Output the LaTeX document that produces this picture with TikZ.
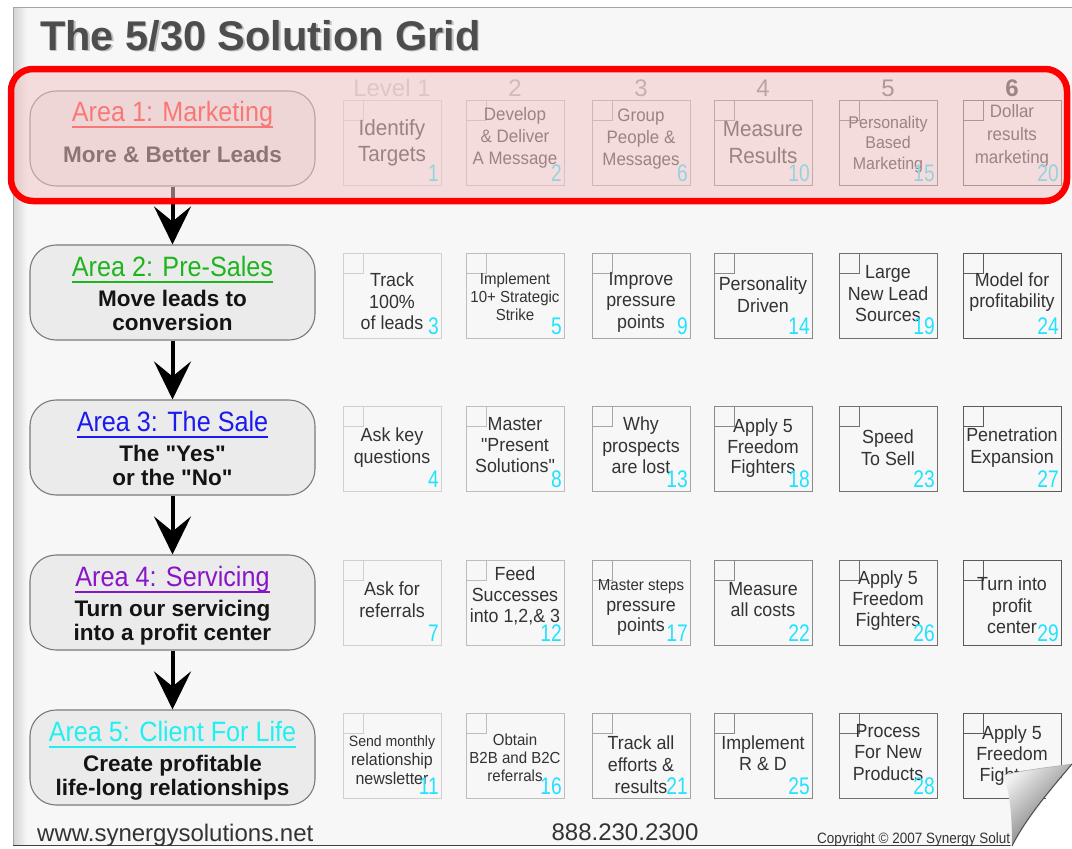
\documentclass[tikz,border=0pt]{standalone}
\usepackage{fontspec}
\setmainfont{Liberation Sans}[Ligatures=TeXOff]
\newfontfamily\narrowfont{Liberation Sans}[FakeStretch=0.9]
\newfontfamily\cellfont{Liberation Sans}[FakeStretch=0.94]
\newfontfamily\numfont{Liberation Sans}[FakeStretch=0.8]
\usetikzlibrary{arrows.meta,calc}
\definecolor{pagebg}{HTML}{F7F7F7}
\definecolor{titlegray}{HTML}{4D4D4D}
\definecolor{areafill}{HTML}{EBEBEB}
\definecolor{areaborder}{HTML}{7A7A7A}
\definecolor{cellink}{HTML}{333333}
\definecolor{numcyan}{HTML}{22E2FF}
\definecolor{ared}{HTML}{FF1A1A}
\definecolor{agreen}{HTML}{1DB51D}
\definecolor{ablue}{HTML}{1A1AF0}
\definecolor{apurple}{HTML}{8A14C8}
\definecolor{acyan}{HTML}{22F0F0}
\definecolor{overlaypink}{RGB}{243,198,198}
\definecolor{framered}{HTML}{FF0000}
\definecolor{bA}{HTML}{CFCFCF}
\definecolor{bB}{HTML}{BDBDBD}
\definecolor{bC}{HTML}{A5A5A5}
\definecolor{bD}{HTML}{8A8A8A}
\definecolor{bE}{HTML}{707070}
\definecolor{bF}{HTML}{5A5A5A}
\newcommand\cf[2]{\cellfont\fontsize{#1}{#2}\selectfont}
\newcommand\gcell[8]{%
  \node[cellbox, draw=#8] (#1) at (#2,#3) {};
  \draw[#8, line width=0.9] (#1.north west) rectangle ++(20,20);
  \node[celltext, font=#5] (#1t) at (#2,#4) {#6};
  \node[cellnum] (#1n) at ($(#1.south east)+(-2,-3)$) {#7};
}
\tikzset{
  areabox/.style={draw=areaborder, fill=areafill, line width=1.1, rounded corners=26, minimum width=285, minimum height=95, inner sep=0},
  areatitle/.style={anchor=base, inner sep=0, font=\narrowfont\fontsize{28}{30}\selectfont},
  areasub/.style={anchor=base, inner sep=0, font=\bfseries\fontsize{22.5}{24}\selectfont, text=black!92},
  flowarrow/.style={line width=4, -{Stealth[length=38pt, width=37pt, inset=15pt]}},
  cellbox/.style={rectangle, minimum width=98, minimum height=85, inner sep=0, outer sep=0, line width=0.9},
  celltext/.style={align=center, inner sep=0, text=cellink},
  cellnum/.style={anchor=south east, inner sep=0, text=numcyan, font=\numfont\fontsize{24}{24}\selectfont},
  header/.style={anchor=base, inner sep=0, font=\fontsize{24}{24}\selectfont},
  foot/.style={anchor=base west, inner sep=0, text=black!80, font=\fontsize{24}{24}\selectfont}
}
\begin{document}
\begin{tikzpicture}[x=1pt,y=-1pt]
\useasboundingbox (0,0) rectangle (1072,849);
\fill[white] (0,0) rectangle (1072,849);
% page
\fill[pagebg] (13,7) rectangle (1072,845);
\shade[left color=black!18, right color=pagebg] (13,7) rectangle (27,845);
\draw[black!35, line width=1] (13,845) -- (13,7) -- (1072,7);
\draw[black!75, line width=1.5] (13,845.5) -- (1072,845.5);
% title
\node[anchor=base west, inner sep=0, text=black!25, font=\bfseries\fontsize{41.5}{44}\selectfont] (titleshadow) at (41.5,51.5) {The 5/30 Solution Grid};
\node[anchor=base west, inner sep=0, text=titlegray, font=\bfseries\fontsize{41.5}{44}\selectfont] (title) at (40,50) {The 5/30 Solution Grid};
% headers
\node[header, text=black!22] (h1) at (392,96) {Level 1};
\node[header, text=black!32] (h2) at (515,96) {2};
\node[header, text=black!42] (h3) at (641,96) {3};
\node[header, text=black!52] (h4) at (763,96) {4};
\node[header, text=black!62] (h5) at (888,96) {5};
\node[header, text=black!78, font=\bfseries\fontsize{24}{24}\selectfont] (h6) at (1012,96) {6};
% area boxes
\node[areabox] (a1) at (172.5,138.5) {};
\node[areabox] (a2) at (172.5,292.5) {};
\node[areabox] (a3) at (172.5,447.5) {};
\node[areabox] (a4) at (172.5,602.5) {};
\node[areabox] (a5) at (172.5,757.5) {};
\draw[flowarrow] (a1.south) -- (a2.north);
\draw[flowarrow] (a2.south) -- (a3.north);
\draw[flowarrow] (a3.south) -- (a4.north);
\draw[flowarrow] (a4.south) -- (a5.north);
% area texts
\node[areatitle, text=ared] (t1) at (172.5,121) {Area 1: Marketing};
\draw[ared, line width=2.5] ($(t1.base west)+(0,6)$) -- ($(t1.base east)+(0,6)$);
\node[areasub] (s1) at (172.5,162) {More \& Better Leads};
\node[areatitle, text=agreen] (t2) at (172.5,276) {Area 2: Pre-Sales};
\draw[agreen, line width=2.5] ($(t2.base west)+(0,6)$) -- ($(t2.base east)+(0,6)$);
\node[areasub] (s2a) at (172.5,306) {Move leads to};
\node[areasub] (s2b) at (172.5,330) {conversion};
\node[areatitle, text=ablue] (t3) at (172.5,431) {Area 3: The Sale};
\draw[ablue, line width=2.5] ($(t3.base west)+(0,6)$) -- ($(t3.base east)+(0,6)$);
\node[areasub] (s3a) at (172.5,461) {The "Yes"};
\node[areasub] (s3b) at (172.5,485) {or the "No"};
\node[areatitle, text=apurple] (t4) at (172.5,586) {Area 4: Servicing};
\draw[apurple, line width=2.5] ($(t4.base west)+(0,6)$) -- ($(t4.base east)+(0,6)$);
\node[areasub] (s4a) at (172.5,616) {Turn our servicing};
\node[areasub] (s4b) at (172.5,640) {into a profit center};
\node[areatitle, text=acyan] (t5) at (172.5,741) {Area 5: Client For Life};
\draw[acyan, line width=2.5] ($(t5.base west)+(0,6)$) -- ($(t5.base east)+(0,6)$);
\node[areasub] (s5a) at (172.5,771) {Create profitable};
\node[areasub] (s5b) at (172.5,795) {life-long relationships};
% row 1
\gcell{c11}{392}{142.5}{143}{\cf{22}{26}}{Identify\\Targets}{1}{bA}
\gcell{c12}{515}{142.5}{138}{\cf{18}{22}}{Develop\\\& Deliver\\A Message}{2}{bB}
\gcell{c13}{641}{142.5}{139}{\cf{18}{22}}{Group\\People \&\\Messages}{6}{bC}
\gcell{c14}{763}{142.5}{142.5}{\cf{22}{27}}{Measure\\Results}{10}{bD}
\gcell{c15}{888}{142.5}{144.5}{\cf{17}{20.5}}{Personality\\Based\\Marketing}{15}{bE}
\gcell{c16}{1012}{142.5}{136}{\cf{18}{23}}{Dollar\\results\\marketing}{20}{bF}
% row 2
\gcell{c21}{392}{295.5}{301.5}{\cf{19}{21.5}}{Track\\100\%\\of leads}{3}{bA}
\gcell{c22}{515}{295.5}{297}{\cf{16}{18}}{Implement\\10+ Strategic\\Strike}{5}{bB}
\gcell{c23}{641}{295.5}{302}{\cf{19}{21.5}}{Improve\\pressure\\points}{9}{bC}
\gcell{c24}{763}{295.5}{294.5}{\cf{19}{21.5}}{Personality\\Driven}{14}{bD}
\gcell{c25}{888}{295.5}{294}{\cf{19}{21.5}}{Large\\New Lead\\Sources}{19}{bE}
\gcell{c26}{1012}{295.5}{292}{\cf{19}{21.5}}{Model for\\profitability}{24}{bF}
% row 3
\gcell{c31}{392}{448.5}{447.5}{\cf{19}{21.5}}{Ask key\\questions}{4}{bA}
\gcell{c32}{515}{448.5}{445.5}{\cf{19}{21}}{Master\\"Present\\Solutions"}{8}{bB}
\gcell{c33}{641}{448.5}{445.5}{\cf{19}{21.5}}{Why\\prospects\\are lost}{13}{bC}
\gcell{c34}{763}{448.5}{448.5}{\cf{19}{20.5}}{Apply 5\\Freedom\\Fighters}{18}{bD}
\gcell{c35}{888}{448.5}{447.5}{\cf{19}{21.5}}{Speed\\To Sell}{23}{bE}
\gcell{c36}{1012}{448.5}{447.5}{\cf{19}{21.5}}{Penetration\\Expansion}{27}{bF}
% row 4
\gcell{c41}{392}{602.5}{599.5}{\cf{19}{21.5}}{Ask for\\referrals}{7}{bA}
\gcell{c42}{515}{602.5}{596}{\cf{19}{21}}{Feed\\Successes\\into 1,2,\& 3}{12}{bB}
\gcell{c43}{641}{602.5}{607.5}{\cf{19}{20.5}}{{\fontsize{16}{18}\selectfont Master steps}\\pressure\\points}{17}{bC}
\gcell{c44}{763}{602.5}{599.5}{\cf{19}{21.5}}{Measure\\all costs}{22}{bD}
\gcell{c45}{888}{602.5}{601}{\cf{19}{21}}{Apply 5\\Freedom\\Fighters}{26}{bE}
\gcell{c46}{1012}{602.5}{605.5}{\cf{19}{21.5}}{Turn into\\profit\\center}{29}{bF}
% row 5
\gcell{c51}{392}{755.5}{760}{\cf{17}{19}}{{\fontsize{15}{17}\selectfont Send monthly}\\relationship\\newsletter}{11}{bA}
\gcell{c52}{515}{755.5}{758}{\cf{16}{18}}{Obtain\\B2B and B2C\\referrals}{16}{bB}
\gcell{c53}{641}{755.5}{765}{\cf{19}{22}}{Track all\\efforts \&\\results}{21}{bC}
\gcell{c54}{763}{755.5}{753.5}{\cf{19}{21}}{Implement\\R \& D}{25}{bD}
\gcell{c55}{888}{755.5}{752.5}{\cf{19}{21.5}}{Process\\For New\\Products}{28}{bE}
\gcell{c56}{1012}{755.5}{756}{\cf{19}{21}}{Apply 5\\Freedom\\Fighters}{}{bF}
% highlight frame over Area 1
\draw[framered, line width=6.5, fill=overlaypink, fill opacity=0.55, rounded corners=22] (11,69) rectangle (1067,201);
% footer
\node[foot] (web) at (37,841) {www.synergysolutions.net};
\node[anchor=base, inner sep=0, text=black!80, font=\fontsize{24}{24}\selectfont] (phone) at (625,840) {888.230.2300};
\node[anchor=base west, inner sep=0, text=black!80, font=\narrowfont\fontsize{15}{15}\selectfont] (copy) at (817,843) {Copyright © 2007 Synergy Solut};
% page curl
\fill[white] (1072,764) -- (1072,849) -- (1008,849) -- cycle;
\shade[top color=black!6, bottom color=black!62, shading angle=45]
  (1003,775) .. controls (1030,769) and (1052,767) .. (1072,764)
  .. controls (1050,790) and (1026,818) .. (1012,846)
  .. controls (1012,815) and (1010,792) .. (1003,775) -- cycle;
\draw[black!30, line width=0.6] (1003,775) .. controls (1030,769) and (1052,767) .. (1072,764);
\draw[black!70, line width=1] (1072,764) .. controls (1050,790) and (1026,818) .. (1012,846);
\end{tikzpicture}
\end{document}
